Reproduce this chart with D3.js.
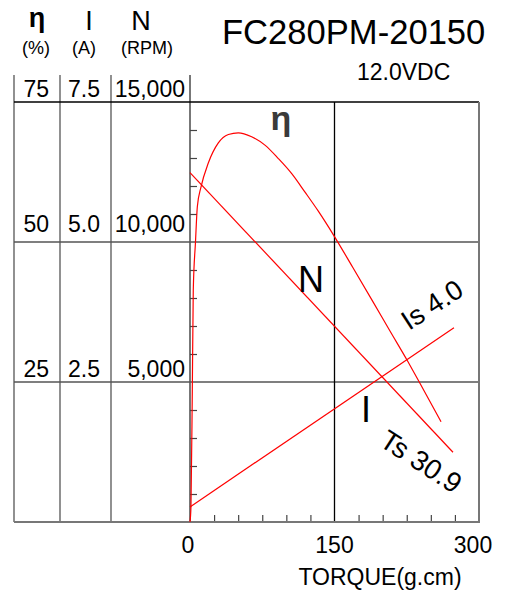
<!DOCTYPE html>
<html lang="en">
  <head>
    <meta charset="UTF-8" />
    <script src="https://cdn.jsdelivr.net/npm/d3@7"></script>
    <style>
      * {
        margin: 0;
        padding: 0;
      }
      body {
        background: #fff;
      }
      svg text {
        font-family: 'Liberation Sans', Arial, sans-serif;
      }
    </style>
    <title>FC280PM-20150</title>
  </head>
  <body>
    <div id="chart"></div>
  </body>
  <script>
    // values
    const torqueLabels = [0, 150, 300];
    const effLabels = [25, 50, 75];
    const currentLabels = ['2.5', '5.0', '7.5'];
    const speedLabels = [5000, 10000, 15000];

    const speedTorque = [0, 273];
    const speedRpm = [12480, 2490];

    const currentTorque = [0, 274];
    const currentAmp = [0.27, 3.47];

    const effTorque = [0, 1, 2.4, 3.4, 5.7, 7.6, 11.4, 19, 29.4, 39.8, 50.1, 64, 77.8, 91.7, 105.6, 119.4, 133.2, 149.5, 169.2, 190, 207.6, 226, 237.7, 260.6];
    const effPct = [0, 2.7, 23.6, 41.4, 50, 56.3, 59.8, 64.1, 67.7, 69.2, 69.5, 68.8, 67.3, 64.9, 62.2, 58.9, 55.5, 51.1, 45.4, 39.3, 34.1, 28.7, 25.1, 17.9];

    const width = 505;
    const height = 592;
    const plotLeft = 190, plotRight = 479, plotTop = 102, plotBottom = 522;
    const tableLeft = 14;
    const colLines = [14, 60, 111, 190];

    const x = d3.scaleLinear().domain([0, 300]).range([plotLeft, plotRight]);
    const yN = d3.scaleLinear().domain([0, 15000]).range([plotBottom, plotTop]);
    const yI = d3.scaleLinear().domain([0, 7.5]).range([plotBottom, plotTop]);
    const yE = d3.scaleLinear().domain([0, 75]).range([plotBottom, plotTop]);

    const svg = d3
      .select('#chart')
      .append('svg')
      .attr('width', width)
      .attr('height', height);

    // table columns on the left
    svg
      .append('g')
      .selectAll('line')
      .data(colLines)
      .join('line')
      .attr('x1', (d) => d)
      .attr('x2', (d) => d)
      .attr('y1', 75)
      .attr('y2', plotBottom)
      .attr('stroke', (d) => (d === plotLeft ? '#777' : '#555'))
      .attr('stroke-width', (d) => (d === plotLeft ? 2 : 1.3));

    // horizontal grid lines across table and plot
    svg
      .append('g')
      .selectAll('line')
      .data([5000, 10000, 15000])
      .join('line')
      .attr('x1', tableLeft)
      .attr('x2', plotRight)
      .attr('y1', (d) => yN(d))
      .attr('y2', (d) => yN(d))
      .attr('stroke', (d) => (d === 15000 ? '#000' : '#555'))
      .attr('stroke-width', 1.5);

    // vertical grid at 150
    svg
      .append('line')
      .attr('x1', x(150))
      .attr('x2', x(150))
      .attr('y1', plotTop)
      .attr('y2', plotBottom)
      .attr('stroke', '#000')
      .attr('stroke-width', 1.3);

    // right border
    svg
      .append('line')
      .attr('x1', plotRight)
      .attr('x2', plotRight)
      .attr('y1', plotTop)
      .attr('y2', plotBottom)
      .attr('stroke', '#777')
      .attr('stroke-width', 2);

    // minor ticks, left axis
    const minorN = d3.range(1000, 15000, 1000).filter((v) => v % 5000 !== 0);
    const yAxis = d3.axisRight(yN).tickValues(minorN).tickSize(7).tickFormat('');
    svg
      .append('g')
      .attr('transform', `translate(${plotLeft},0)`)
      .call(yAxis)
      .call((g) => g.select('.domain').remove())
      .call((g) => g.selectAll('.tick line').attr('stroke', '#444').attr('stroke-width', 1.2));

    // minor ticks, bottom axis
    const minorT = d3.range(25, 300, 25).filter((v) => v !== 150);
    const xAxis = d3.axisBottom(x).tickValues(minorT).tickSize(-7).tickFormat('');
    svg
      .append('g')
      .attr('transform', `translate(0,${plotBottom})`)
      .call(xAxis)
      .call((g) => g.select('.domain').remove())
      .call((g) => g.selectAll('.tick line').attr('stroke', '#444').attr('stroke-width', 1.2));

    // bottom line
    svg
      .append('line')
      .attr('x1', tableLeft)
      .attr('x2', plotRight + 1)
      .attr('y1', plotBottom)
      .attr('y2', plotBottom)
      .attr('stroke', '#777')
      .attr('stroke-width', 2);

    // torque labels
    svg
      .append('g')
      .selectAll('text')
      .data(torqueLabels)
      .join('text')
      .attr('x', (d, i) => x(d) + (i === 2 ? -6 : i === 0 ? -2 : 0))
      .attr('y', 553)
      .attr('text-anchor', 'middle')
      .attr('font-size', 23)
      .text((d) => d);

    svg
      .append('text')
      .attr('x', 380)
      .attr('y', 585)
      .attr('text-anchor', 'middle')
      .attr('font-size', 23)
      .text('TORQUE(g.cm)');

    // table values
    const rowY = [377, 232, 97];
    const rows = svg.append('g').attr('font-size', 23).attr('text-anchor', 'end');
    rows
      .selectAll('.eff')
      .data(effLabels)
      .join('text')
      .attr('class', 'eff')
      .attr('x', 49)
      .attr('y', (d, i) => rowY[i])
      .text((d) => d);
    rows
      .selectAll('.cur')
      .data(currentLabels)
      .join('text')
      .attr('class', 'cur')
      .attr('x', 100)
      .attr('y', (d, i) => rowY[i])
      .text((d) => d);
    rows
      .selectAll('.spd')
      .data(speedLabels)
      .join('text')
      .attr('class', 'spd')
      .attr('x', 185)
      .attr('y', (d, i) => rowY[i])
      .text((d) => d3.format(',')(d));

    // header
    const head = svg.append('g').attr('text-anchor', 'middle');
    head.append('text').attr('x', 37).attr('y', 27).attr('font-size', 27).attr('font-weight', 'bold').text('η');
    head.append('text').attr('x', 89).attr('y', 30).attr('font-size', 27).text('I');
    head.append('text').attr('x', 141).attr('y', 30).attr('font-size', 27).text('N');
    head.append('text').attr('x', 36).attr('y', 54).attr('font-size', 18).text('(%)');
    head.append('text').attr('x', 84).attr('y', 54).attr('font-size', 18).text('(A)');
    head.append('text').attr('x', 147).attr('y', 54).attr('font-size', 18).text('(RPM)');

    // title
    svg
      .append('text')
      .attr('x', 222)
      .attr('y', 44)
      .attr('font-size', 34.6)
      .text('FC280PM-20150');
    svg
      .append('text')
      .attr('x', 357)
      .attr('y', 80)
      .attr('font-size', 23)
      .text('12.0VDC');

    // curves
    const curves = svg.append('g').attr('fill', 'none').attr('stroke', '#ff0000').attr('stroke-width', 1.2);

    const speedPts = speedTorque.map((t, i) => [x(t), yN(speedRpm[i])]);
    const currentPts = currentTorque.map((t, i) => [x(t), yI(currentAmp[i])]);
    const effPts = effTorque.map((t, i) => [x(t), yE(effPct[i])]);

    curves.append('path').attr('d', d3.line()(speedPts));
    curves.append('path').attr('d', d3.line()(currentPts));
    curves.append('path').attr('d', d3.line().curve(d3.curveMonotoneX)(effPts));

    // curve labels
    const labels = svg.append('g').attr('fill', '#000');
    labels
      .append('text')
      .attr('x', 281)
      .attr('y', 130)
      .attr('text-anchor', 'middle')
      .attr('font-size', 34)
      .attr('font-weight', 'bold')
      .attr('fill', '#3a3a3a')
      .text('η');
    labels.append('text').attr('x', 311).attr('y', 292).attr('text-anchor', 'middle').attr('font-size', 36).text('N');
    labels.append('text').attr('x', 366).attr('y', 422).attr('text-anchor', 'middle').attr('font-size', 36).text('I');
    labels
      .append('text')
      .attr('transform', 'translate(409,331) rotate(-33)')
      .attr('font-size', 27.5)
      .text('Is 4.0');
    labels
      .append('text')
      .attr('transform', 'translate(378,445) rotate(33)')
      .attr('font-size', 28)
      .text('Ts 30.9');
  </script>
</html>
